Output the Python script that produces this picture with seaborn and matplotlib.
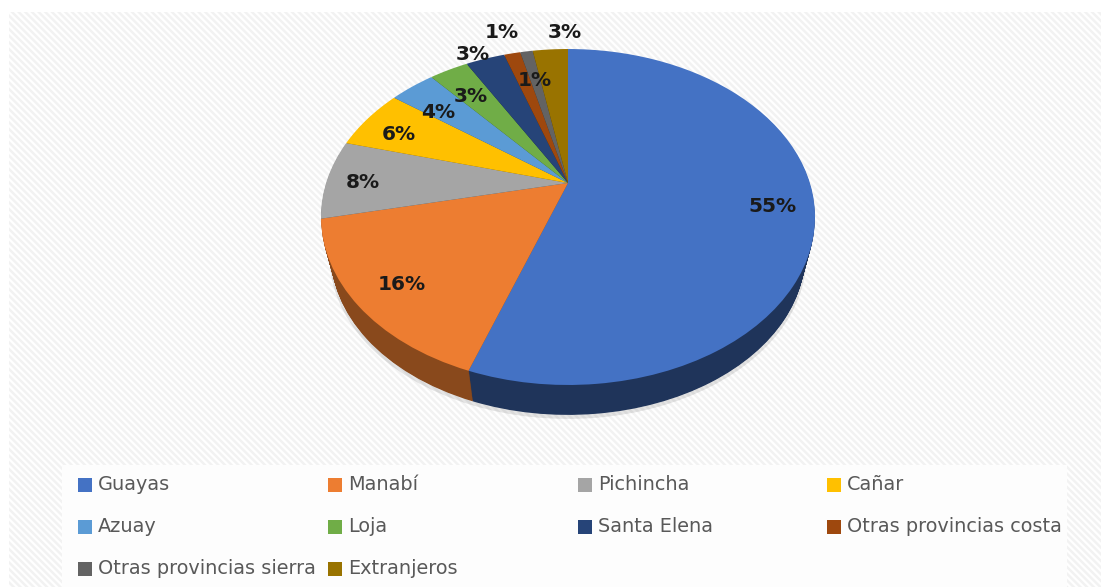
import numpy as np
import matplotlib
matplotlib.use("Agg")
import matplotlib.pyplot as plt
import matplotlib.transforms as mtransforms
from matplotlib.patches import Rectangle
from matplotlib.path import Path
import seaborn as sns

# Data
categories = ["Guayas", "Manabí", "Pichincha", "Cañar", "Azuay", "Loja", "Santa Elena",
              "Otras provincias costa", "Otras provincias sierra", "Extranjeros"]
values = [55.4, 16.2, 7.6, 5.9, 3.6, 3.1, 3.1, 1.3, 1.0, 2.8]
colors = ["#4472C4", "#ED7D31", "#A5A5A5", "#FFC000", "#5B9BD5",
          "#70AD47", "#264478", "#9E480E", "#636363", "#997300"]

# where the labels sit, in pixels
label_pos = [(773, 207), (402, 284), (363, 183), (399, 134), (438, 112),
             (471, 97), (473, 55), (502, 33), (535, 80), (565, 33)]
legend_cols = [78, 328, 578, 827]
legend_rows = [485, 527, 569]


# tilted pie: a circle seen in perspective, the apex is above the centre of the ellipse
class Tilt(mtransforms.Transform):
    input_dims = 2
    output_dims = 2
    is_separable = False
    has_inverse = False

    def __init__(self, drop=0.0, scale=1.0):
        super().__init__()
        self.drop = drop
        self.scale = scale

    def transform_non_affine(self, xy):
        xy = np.asarray(xy, dtype=float)
        u = xy[:, 0] / 247.0
        v = xy[:, 1] / 247.0
        w = 1 + 0.2024 * v
        px = 568 + self.scale * 241.9 * u / w
        py = 183 + self.drop - self.scale * 161.1 * v / w
        return np.column_stack([px, py])

    def transform_path_non_affine(self, path):
        poly = path.to_polygons(closed_only=True)[0]
        return Path(self.transform_non_affine(poly))


sns.set_theme(style="white")
plt.rcParams["font.family"] = ["DejaVu Sans"]
plt.rcParams["hatch.linewidth"] = 1.8

fig = plt.figure(figsize=(11.1, 5.87), dpi=100)
ax = fig.add_axes([0, 0, 1, 1])

# faint shadow under the pie
wedges, _ = ax.pie(values, colors=["#000000"] * len(values), startangle=90, counterclock=False, radius=247)
for w in wedges:
    w.set_transform(Tilt(41, 0.965) + ax.transData)
    w.set_linewidth(0)
    w.set_alpha(0.1)
    w.set_zorder(2)

# side of the pie, darker colours stacked from the bottom up
palette = sns.color_palette(colors)
dark = [tuple(c * 0.46 for c in col) for col in palette]
dark[1] = tuple(c * 0.58 for c in palette[1])
steps = 40
for i in range(steps, 0, -1):
    f = i / steps
    wedges, _ = ax.pie(values, colors=dark, startangle=90, counterclock=False, radius=247)
    for w in wedges:
        w.set_transform(Tilt(38 * f, 1 - 0.04 * f) + ax.transData)
        w.set_linewidth(0)
        w.set_zorder(3)

# top of the pie
wedges, _ = ax.pie(values, colors=palette, startangle=90, counterclock=False, radius=247)
for w in wedges:
    w.set_transform(Tilt() + ax.transData)
    w.set_linewidth(0)
    w.set_zorder(4)

ax.set_aspect("auto")
ax.set_xlim(0, 1110)
ax.set_ylim(587, 0)
ax.axis("off")

# background with the diagonal stripes, white panel behind the legend
ax.add_patch(Rectangle((9, 12), 1092, 575, facecolor="#FFFFFF", edgecolor="#F2F2F2",
                       hatch="\\\\\\\\\\", linewidth=0, zorder=0))
ax.add_patch(Rectangle((62, 465), 1005, 122, facecolor="#FDFDFD", edgecolor="none", zorder=1))

for v, (x, y) in zip(values, label_pos):
    ax.text(x, y, f"{v:.0f}%", ha="center", va="center", fontsize=14.5, fontweight="bold",
            color="#1A1A1A", zorder=6)

# legend, filled row by row
for i, (name, col) in enumerate(zip(categories, palette)):
    x = legend_cols[i % 4]
    y = legend_rows[i // 4]
    ax.scatter([x + 7], [y], marker="s", s=88, color=col, linewidths=0, zorder=5)
    ax.text(x + 20, y, name, ha="left", va="center", fontsize=13.9, color="#595959", zorder=5)

fig.savefig("out.png", dpi=100)
